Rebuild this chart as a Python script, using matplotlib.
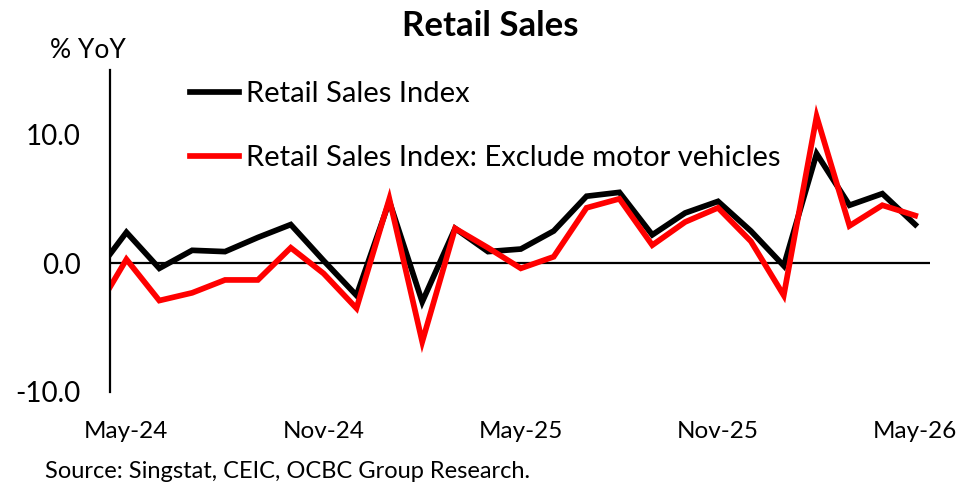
import matplotlib.pyplot as plt
import numpy as np

plt.rcParams["font.family"] = ["Lato", "DejaVu Sans"]

months = [
    "Apr-24", "May-24", "Jun-24", "Jul-24", "Aug-24", "Sep-24", "Oct-24",
    "Nov-24", "Dec-24", "Jan-25", "Feb-25", "Mar-25", "Apr-25", "May-25",
    "Jun-25", "Jul-25", "Aug-25", "Sep-25", "Oct-25", "Nov-25", "Dec-25",
    "Jan-26", "Feb-26", "Mar-26", "Apr-26", "May-26",
]
retail_total = [
    -1.0, 2.4, -0.4, 1.0, 0.9, 2.0, 3.0, 0.2, -2.5, 4.8, -3.0, 2.7, 0.9,
    1.1, 2.5, 5.2, 5.5, 2.2, 3.9, 4.8, 2.5, -0.2, 8.5, 4.5, 5.4, 3.0,
]
retail_ex_motor = [
    -4.0, 0.3, -2.9, -2.3, -1.3, -1.3, 1.2, -0.8, -3.5, 5.0, -6.1, 2.7, 1.2,
    -0.4, 0.5, 4.3, 5.0, 1.4, 3.2, 4.3, 1.7, -2.5, 11.4, 2.9, 4.5, 3.7,
]
tick_labels = ["May-24", "Nov-24", "May-25", "Nov-25", "May-26"]

x = np.arange(len(months)) - 1
tick_pos = [months.index(m) - 1 for m in tick_labels]

fig = plt.figure(figsize=(9.68, 4.84), dpi=100)
ax = fig.add_axes([110 / 968, 1 - 392 / 484, 820 / 968, 322 / 484])

ax.plot(x, retail_total, color="black", lw=4.1, solid_joinstyle="miter",
        label="Retail Sales Index")
ax.plot(x, retail_ex_motor, color="#ff0000", lw=4.1, solid_joinstyle="miter",
        label="Retail Sales Index: Exclude motor vehicles")
ax.axhline(0, color="black", lw=1.6, zorder=1)

ax.set_xlim(-0.5, 24.45)
ax.set_ylim(-10, 15)
ax.set_yticks([-10, 0, 10])
ax.set_yticklabels(["-10.0", "0.0", "10.0"])
ax.set_xticks(tick_pos)
ax.set_xticklabels(tick_labels)
ax.tick_params(axis="y", length=0, pad=21, labelsize=20)
ax.tick_params(axis="x", length=0, pad=21, labelsize=17.5)

for side in ["top", "right", "bottom"]:
    ax.spines[side].set_visible(False)
ax.spines["left"].set_linewidth(1.6)

ax.legend(loc="upper left", bbox_to_anchor=(0.097, 0.965), frameon=False,
          fontsize=21, handlelength=1.7, handletextpad=0.25, labelspacing=1.3,
          borderpad=0, borderaxespad=0)

fig.text(490 / 968, 1 - 26 / 484, "Retail Sales", ha="center", va="center",
         fontsize=25, fontweight="bold")
fig.text(88 / 968, 1 - 50 / 484, "% YoY", ha="center", va="center", fontsize=19)
fig.text(45 / 968, 1 - 471 / 484, "Source: Singstat, CEIC, OCBC Group Research.",
         ha="left", va="center", fontsize=17)

fig.savefig("out.png", dpi=100)
